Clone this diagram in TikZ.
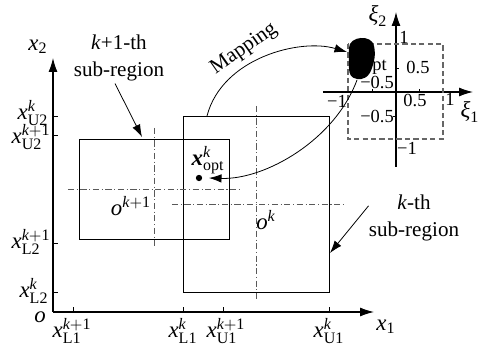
\documentclass[tikz,border=0pt]{standalone}
\usepackage{fontspec}
\setmainfont{Liberation Serif}
\usetikzlibrary{arrows.meta,positioning,calc}
\tikzset{
	ax/.style={line width=0.6pt, -{Latex[length=2.8mm,width=1.8mm]}},
	box/.style={draw, line width=0.5pt},
	cline/.style={gray!70!black, line width=0.45pt,
		dash pattern=on 3.5pt off 1.5pt on 0.6pt off 1.5pt},
	sq/.style={gray!80!black, line width=0.6pt, dash pattern=on 3pt off 1.8pt},
	pnt/.style={line width=0.45pt, -{Latex[length=2.5mm,width=1.7mm]}},
	tck/.style={line width=0.5pt},
	lbl/.style={font=\fontsize{12}{15.5}\selectfont, inner sep=0pt},
	mlbl/.style={font=\fontsize{13}{15}\selectfont, inner sep=0pt},
	tkl/.style={font=\fontsize{10.5}{12}\selectfont, inner sep=0pt},
}
\newcommand{\xlab}[2]{$\mathit{x}^{#1}_{\mathrm{#2}}$}

\begin{document}
\begin{tikzpicture}[x=0.02cm, y=-0.02cm]
	\useasboundingbox (0,0) rectangle (478,347);
	% main axes
	\coordinate (O) at (53,312);
	\coordinate (x1end) at (374,312);
	\coordinate (x2end) at (53,58);
	\draw[ax] (O) -- (x1end);
	\draw[ax] (O) -- (x2end);
	\node[mlbl] (lx1) at (386,327) {$\mathit{x}_{\mathrm{1}}$};
	\node[mlbl] (lx2) at (38,47) {$\mathit{x}_{\mathrm{2}}$};
	\node[mlbl] (lO) at (40,317) {\textit{o}};
	% ticks
	\foreach \ty in {116,135,243,292}
		\draw[tck] (53,\ty) -- (58,\ty);
	\foreach \tx in {73,183,223,329}
		\draw[tck] (\tx,312) -- (\tx,307);
	\node[mlbl] (tU2k) at (33,113) {\xlab{\mathit{k}}{U2}};
	\node[mlbl] (tU2k1) at (31,137) {\xlab{\mathit{k}\mathrm{+1}}{U2}};
	\node[mlbl] (tL2k1) at (31,242) {\xlab{\mathit{k}\mathrm{+1}}{L2}};
	\node[mlbl] (tL2k) at (34,291) {\xlab{\mathit{k}}{L2}};
	\node[mlbl] (tL1k1) at (72,331) {\xlab{\mathit{k}\mathrm{+1}}{L1}};
	\node[mlbl] (tL1k) at (183,331) {\xlab{\mathit{k}}{L1}};
	\node[mlbl] (tU1k1) at (226,331) {\xlab{\mathit{k}\mathrm{+1}}{U1}};
	\node[mlbl] (tU1k) at (329,331) {\xlab{\mathit{k}}{U1}};
	% sub-regions
	\coordinate (kA) at (183,116);
	\coordinate (kB) at (329,292);
	\coordinate (kkA) at (79,139);
	\coordinate (kkB) at (229,239);
	\draw[box] (kkA) rectangle (kkB);
	\draw[box] (kA) rectangle (kB);
	% centre lines
	\draw[cline] (154,128) -- (154,249);
	\draw[cline] (68,189) -- (241,189);
	\draw[cline] (256,106) -- (256,300);
	\draw[cline] (172,204) -- (345,204);
	\node[mlbl] (ok1) at (131,206) {$\mathit{o}^{\mathit{k}\mathrm{+1}}$};
	\node[mlbl] (ok) at (266,220) {$\mathit{o}^{\mathit{k}}$};
	% optimum
	\node[circle, fill, inner sep=0pt, minimum size=3.6pt] (dot) at (199,178) {};
	\node[mlbl] (optlbl) at (208,160) {$\mbox{\bfseries\itshape x}^{\mathit{k}}_{\mathrm{opt}}$};
	% labels of the sub-regions
	\node[lbl, align=center] (sub1) at (119,58) {\textit{k}+1-th\\sub-region};
	\node[lbl, align=center] (sub2) at (414,218) {\textit{k}-th\\sub-region};
	\coordinate (kkin) at (142,137);
	\coordinate (kin) at (330,253);
	\draw[pnt] (sub1.south) ++(-4,2) -- (kkin);
	\draw[pnt] (sub2.165) -- (kin);
	% normalised space
	\coordinate (xiO) at (396,92);
	\draw[ax] (323,92) -- (473,92);
	\draw[ax] (396,167) -- (396,12);
	\draw[sq] (348,44) rectangle (443,139);
	\draw[tck] (372,92) -- (372,89);
	\draw[tck] (419,92) -- (419,89);
	\draw[tck] (396,68) -- (399,68);
	\draw[tck] (396,116) -- (393,116);
	\node[mlbl] (lxi2) at (378,16) {$\mbox{\itshape ξ}_{\mathrm{2}}$};
	\node[mlbl] (lxi1) at (470,112) {$\mbox{\itshape ξ}_{\mathrm{1}}$};
	\node[tkl] (n1y) at (404,37) {1};
	\node[tkl] (n05y) at (418,68) {0.5};
	\node[tkl] (nm05x) at (377,83) {−0.5};
	\node[tkl] (nm1x) at (337,101) {−1};
	\node[tkl] (n05x) at (415,101) {0.5};
	\node[tkl] (n1x) at (450,99) {1};
	\node[tkl] (nm05y) at (377,117) {−0.5};
	\node[tkl] (nm1y) at (407,148) {−1};
	\node[tkl] (optpart) at (375,67) {opt};
	% mapped optimum region
	\fill (349,48) .. controls (349,36) and (372,34) .. (374,46)
		.. controls (376,55) and (374,62) .. (372,68)
		.. controls (369,78) and (362,80) .. (357,79)
		.. controls (351,78) and (349,74) .. (349,68) -- cycle;
	\coordinate (blobL) at (347,52);
	\coordinate (blobB) at (357,80);
	\coordinate (kTop) at (207,116);
	\coordinate (dotR) at (209,178);
	% mapping
	\draw[pnt] (kTop) .. controls (222,58) and (300,38) .. (blobL);
	\draw[pnt] (blobB) .. controls (335,140) and (265,180) .. (dotR);
	\node[lbl, rotate=35] (maptxt) at (244,49) {Mapping};
\end{tikzpicture}
\end{document}
